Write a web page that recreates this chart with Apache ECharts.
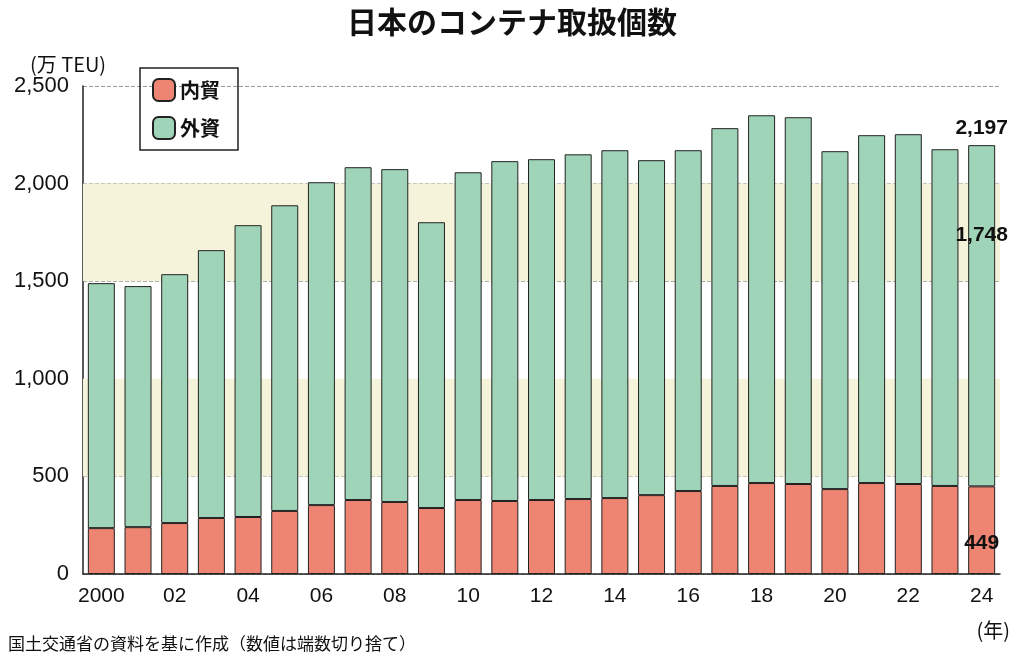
<!DOCTYPE html>
<html><head><meta charset="utf-8">
<script src="https://cdn.jsdelivr.net/npm/echarts@6/dist/echarts.min.js"></script>
<style>body{margin:0}#main{width:1024px;height:660px}</style>
</head><body><div id="main"></div>
<script>
const years = ["2000","01","02","03","04","05","06","07","08","09","10","11","12","13","14","15","16","17","18","19","20","21","22","23","24"];
const domestic = [235,240,261,287,292,323,353,379,369,338,379,374,379,384,389,404,425,451,466,461,435,466,461,451,449];
const foreign = [1255,1235,1275,1372,1495,1566,1654,1705,1705,1464,1679,1741,1746,1766,1782,1716,1746,1833,1884,1879,1731,1782,1792,1725,1748];
const font = "'Noto Sans CJK JP', sans-serif";
const last = years.length - 1;

const chart = echarts.init(document.getElementById("main"));
chart.setOption({
    animation: false,
    title: {text: "日本のコンテナ取扱個数", left: "center", top: 2,
        textStyle: {fontFamily: font, fontSize: 30, fontWeight: "bold", color: "#111"}},
    legend: {
        orient: "vertical", left: 140, top: 68, padding: [10, 18, 10, 12], itemGap: 14,
        itemWidth: 22, itemHeight: 22, borderColor: "#222", borderWidth: 1.5,
        textStyle: {fontFamily: font, fontSize: 20, fontWeight: "bold", color: "#111"},
        data: ["内貿", "外資"]
    },
    grid: {left: 83, right: 24, top: 86, bottom: 86},
    xAxis: {
        type: "category", data: years,
        axisLine: {lineStyle: {color: "#222", width: 1.5}},
        axisTick: {show: false},
        axisLabel: {color: "#111", fontSize: 21, fontFamily: "Liberation Sans", margin: 12}
    },
    yAxis: {
        type: "value", min: 0, max: 2500, interval: 500,
        name: "(万 TEU)", nameGap: 12,
        nameTextStyle: {color: "#111", fontSize: 20, fontFamily: font, align: "center", padding: [0, 0, 0, -30]},
        axisLine: {show: true, lineStyle: {color: "#222", width: 1.5}},
        axisTick: {show: false},
        axisLabel: {color: "#111", fontSize: 22, fontFamily: "Liberation Sans", margin: 14},
        splitLine: {lineStyle: {color: "#999", type: "dashed"}}
    },
    graphic: [
        {type: "text", left: 8, bottom: 8,
            style: {text: "国土交通省の資料を基に作成（数値は端数切り捨て）", fontSize: 17, fontFamily: font, fill: "#111"}},
        {type: "text", right: 14, bottom: 20,
            style: {text: "(年)", fontSize: 20, fontFamily: font, fill: "#111"}}
    ],
    series: [
        {
            name: "内貿", type: "bar", stack: "t", barWidth: 27,
            itemStyle: {color: "#ee8472", borderColor: "#222", borderWidth: 1},
            data: domestic.map((v, i) => i === last ? {value: v, label: {show: true, position: "insideBottom", distance: 20,
                formatter: "{c}", fontSize: 21, fontWeight: "bold", fontFamily: "Liberation Sans", color: "#111"}} : v),
            markArea: {silent: true, itemStyle: {color: "#f5f3da"}, data: [
                [{yAxis: 500}, {yAxis: 1000}], [{yAxis: 1500}, {yAxis: 2000}]
            ]},
            z: 3
        },
        {
            name: "外資", type: "bar", stack: "t", barWidth: 27,
            itemStyle: {color: "#a0d4b8", borderColor: "#222", borderWidth: 1},
            data: foreign.map((v, i) => i === last ? {value: v, label: {show: true, position: "insideTop", distance: 80,
                formatter: "1,748", fontSize: 21, fontWeight: "bold", fontFamily: "Liberation Sans", color: "#111"}} : v),
            z: 3
        },
        {
            type: "bar", stack: "t", barWidth: 27, silent: true, legendHoverLink: false,
            itemStyle: {color: "transparent"},
            data: years.map((y, i) => i === last ? {value: 0, label: {show: true, position: "top", distance: 6,
                formatter: (domestic[last] + foreign[last]).toLocaleString(), fontSize: 21, fontWeight: "bold", fontFamily: "Liberation Sans", color: "#111"}} : 0)
        }
    ]
});
</script></body></html>
